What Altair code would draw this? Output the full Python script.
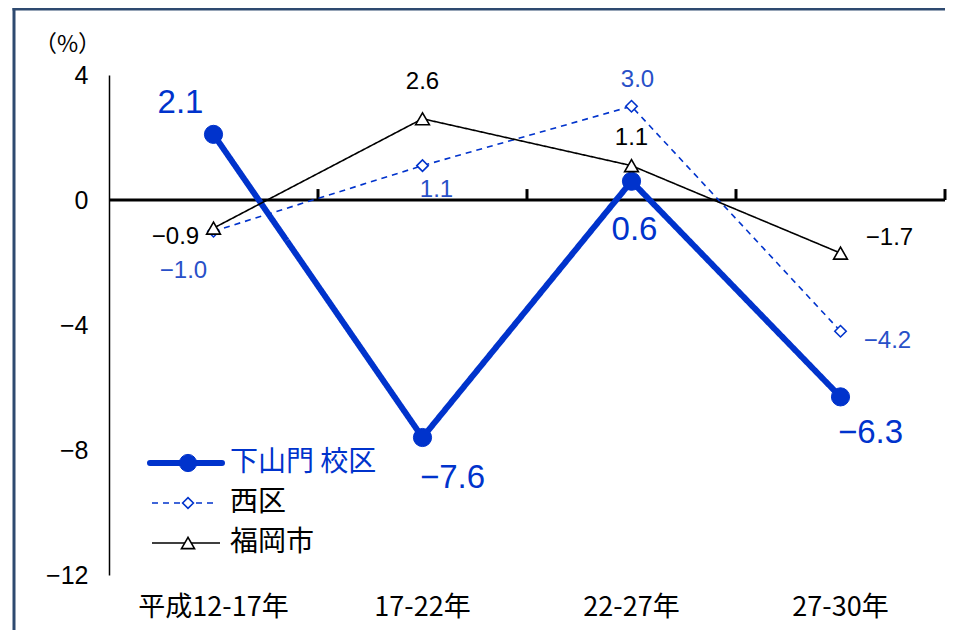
import altair as alt
import pandas as pd

# ---------------- data ----------------
categories = ["平成12-17年", "17-22年", "22-27年", "27-30年"]
series_names = ["下山門 校区", "西区", "福岡市"]
shimoyamato = [2.1, -7.6, 0.6, -6.3]
nishi = [-1.0, 1.1, 3.0, -4.2]
fukuoka = [-0.9, 2.6, 1.1, -1.7]
y_ticks = [4, 0, -4, -8, -12]
y_unit_label = "（%）"

values_by_series = dict(zip(series_names, [shimoyamato, nishi, fukuoka]))
rows = []
for name in series_names:
    for c, v in zip(categories, values_by_series[name]):
        rows.append({"cat": c, "series": name, "value": v,
                     "label": f"{v:.1f}".replace("-", "\u2212")})
df = pd.DataFrame(rows)
tick_df = pd.DataFrame({"cat": categories, "y0": [0] * len(categories), "y1": [0.35] * len(categories)})

# ---------------- styles ----------------
BLUE = "#0033CC"
LBLUE = "#2850C8"
FRAME = "#2E4A70"
JP = "Noto Sans CJK JP"
styles = {
    "下山門 校区": dict(color=BLUE, width=6, dash=[1, 0], shape="circle", size=330, fill=BLUE,
                    pstroke=BLUE, pwidth=1, lcolor=BLUE, lfont="Liberation Sans", lsize=33),
    "西区": dict(color=BLUE, width=1.6, dash=[6, 5], shape="diamond", size=130, fill="white",
               pstroke=BLUE, pwidth=1.6, lcolor=LBLUE, lfont="Liberation Sans", lsize=24),
    "福岡市": dict(color="black", width=1.6, dash=[1, 0], shape="triangle-up", size=190, fill="white",
                pstroke="black", pwidth=1.6, lcolor="black", lfont="Liberation Sans", lsize=24),
}
label_offsets = {
    "下山門 校区": [(-33, -31), (30, 40), (3, 49), (30, 36)],
    "西区": [(-30, 40), (14, 24), (6, -26), (47, 10)],
    "福岡市": [(-38, 9), (0, -37), (0, -28), (49, -15)],
}
legend_rows = {  # (y, x_start, x_end, marker_x, text_x, text_color)
    "下山門 校区": (388, 41, 113, 79, 121, BLUE),
    "西区": (428, 43, 108, 79, 121, "black"),
    "福岡市": (468, 43, 111, 79, 121, "black"),
}

x_scale = alt.Scale(type="band", paddingInner=0, paddingOuter=0, domain=categories)
y_scale = alt.Scale(domain=[-12, 4], nice=False, zero=False)

x_axis = alt.Axis(title=None, domain=False, ticks=False, grid=False, labelAngle=0,
                  labelFontSize=27, labelFont=JP, labelColor="black", labelPadding=19)
y_axis = alt.Axis(values=y_ticks, title=y_unit_label, titleAngle=0, titleX=-42, titleY=-31,
                  titleAlign="center", titleBaseline="middle", titleFontSize=23,
                  titleFontWeight="normal", titleFont=JP, titleColor="black",
                  labelFontSize=25, labelFont="Liberation Sans", labelColor="black",
                  labelPadding=21, ticks=False, grid=False, domainColor="black", domainWidth=1.5)

layers = []

# frame border (decoration): thin filled bars on the left and top edges
frame = alt.Chart(pd.DataFrame({"a": [0]}))
layers.append(frame.mark_rect(color=FRAME, strokeWidth=0)
              .encode(x=alt.value(-96.5), x2=alt.value(-93.5), y=alt.value(-67.5), y2=alt.value(555)))
layers.append(frame.mark_rect(color=FRAME, strokeWidth=0)
              .encode(x=alt.value(-96.5), x2=alt.value(836), y=alt.value(-67.5), y2=alt.value(-64.5)))

# axes + tick marks on zero line
layers.append(
    alt.Chart(tick_df).mark_rule(color="black", strokeWidth=3).encode(
        x=alt.X("cat:N", sort=categories, scale=x_scale, axis=x_axis, bandPosition=1),
        y=alt.Y("y0:Q", scale=y_scale, axis=y_axis),
        y2="y1:Q",
    )
)
# zero line
layers.append(
    alt.Chart(pd.DataFrame({"y0": [0]})).mark_rule(color="black", strokeWidth=3)
    .encode(y=alt.Y("y0:Q", scale=y_scale))
)

for name in series_names:
    st = styles[name]
    sdf = df[df.series == name]
    base = alt.Chart(sdf).encode(
        x=alt.X("cat:N", sort=categories, scale=x_scale),
        y=alt.Y("value:Q", scale=y_scale),
    )
    layers.append(base.mark_line(color=st["color"], strokeWidth=st["width"], strokeDash=st["dash"]))
    layers.append(base.mark_point(shape=st["shape"], size=st["size"], filled=True, fill=st["fill"],
                                  stroke=st["pstroke"], strokeWidth=st["pwidth"], opacity=1))

for name in series_names:
    st = styles[name]
    for c, (dx, dy) in zip(categories, label_offsets[name]):
        sdf = df[(df.series == name) & (df.cat == c)]
        layers.append(
            alt.Chart(sdf).mark_text(dx=dx, dy=dy, align="center", baseline="middle",
                                     font=st["lfont"], fontSize=st["lsize"], color=st["lcolor"])
            .encode(x=alt.X("cat:N", sort=categories, scale=x_scale),
                    y=alt.Y("value:Q", scale=y_scale), text="label:N")
        )

# manual legend
for name in series_names:
    st = styles[name]
    ly, x0, x1, mx, tx, tcol = legend_rows[name]
    ldf = pd.DataFrame({"series": [name]})
    lb = alt.Chart(ldf)
    layers.append(lb.mark_rule(color=st["color"], strokeWidth=st["width"], strokeDash=st["dash"],
                               strokeCap="round" if st["width"] > 3 else "butt")
                  .encode(x=alt.value(x0), x2=alt.value(x1), y=alt.value(ly)))
    layers.append(lb.mark_point(shape=st["shape"], size=st["size"] * 0.9, filled=True, fill=st["fill"],
                                stroke=st["pstroke"], strokeWidth=st["pwidth"], opacity=1)
                  .encode(x=alt.value(mx), y=alt.value(ly)))
    layers.append(lb.mark_text(align="left", baseline="middle", font=JP, fontSize=28, color=tcol)
                  .encode(x=alt.value(tx), y=alt.value(ly), text="series:N"))

chart = alt.layer(*layers).properties(
    width=836, height=500,
    autosize=alt.AutoSizeParams(type="none"),
    padding={"left": 101, "top": 67, "right": 4, "bottom": 56},
    background="white",
).configure_view(strokeWidth=0, stroke="transparent")

chart.save("out.html", embed_options={"renderer": "svg", "actions": False})
